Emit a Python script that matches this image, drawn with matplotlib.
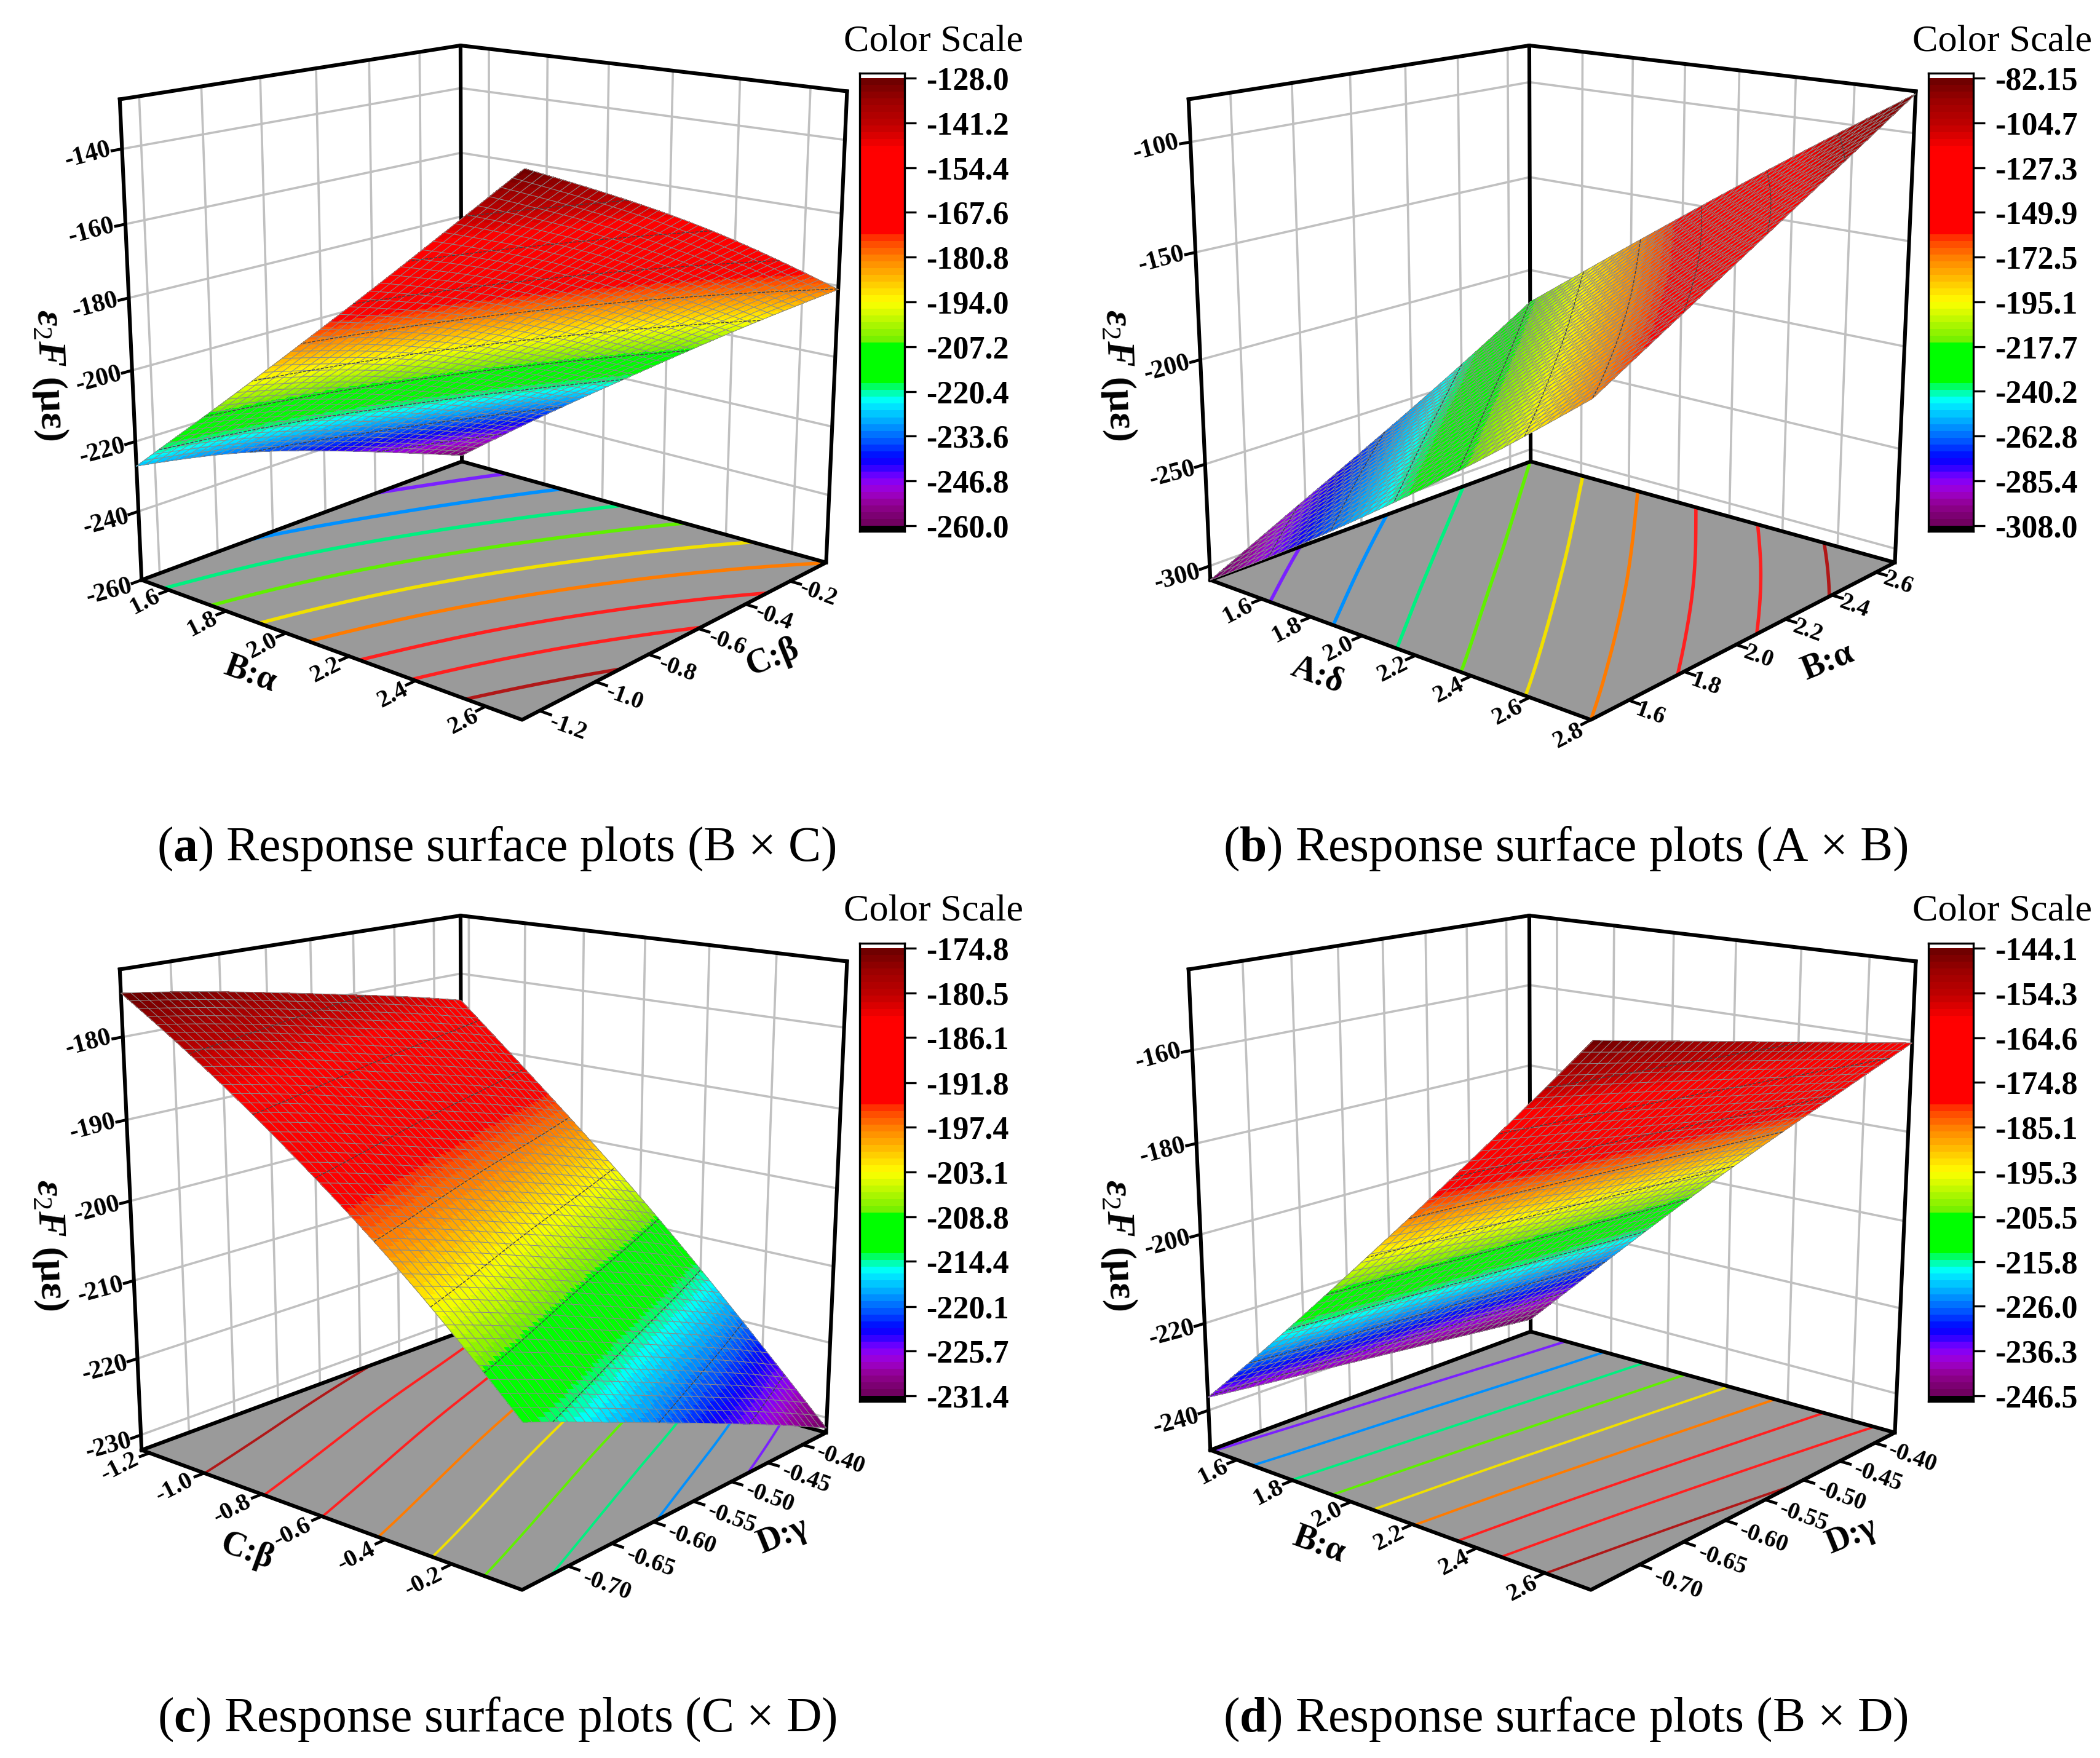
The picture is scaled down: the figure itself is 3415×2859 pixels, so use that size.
from __future__ import annotations

import matplotlib

matplotlib.use("Agg")
import matplotlib.pyplot as plt
import matplotlib.tri as mtri
import numpy as np
from matplotlib.colors import LinearSegmentedColormap, Normalize
from mpl_toolkits.mplot3d import proj3d

W, H = 3415, 2859

plt.rcParams["font.family"] = ["Liberation Serif", "DejaVu Serif"]
plt.rcParams["mathtext.fontset"] = "custom"
plt.rcParams["mathtext.rm"] = "Liberation Serif"
plt.rcParams["mathtext.it"] = "Liberation Serif:italic:bold"
plt.rcParams["mathtext.bf"] = "Liberation Serif:bold"

# values, rows follow y, columns follow x
a_x = [1.5, 1.8, 2.1, 2.4, 2.7]
a_y = [-1.26, -0.9525, -0.645, -0.3375, -0.03]
a_z = [
    [-227, -203, -178.5, -153.5, -128],
    [-232, -209.1, -186.1, -162.8, -139.5],
    [-239.5, -217.4, -195.5, -173.7, -152],
    [-248.5, -227.1, -206.4, -185.9, -166],
    [-258, -237.5, -218, -199, -181],
]
b_x = [1.38, 1.735, 2.09, 2.445, 2.8]
b_y = [1.47, 1.775, 2.08, 2.385, 2.69]
b_z = [
    [-307, -276.5, -244, -209.5, -172.5],
    [-285.5, -253.7, -220.5, -186, -150],
    [-264, -231, -197.1, -162.7, -127.5],
    [-241.5, -207.3, -173, -139, -105],
    [-217.5, -182.5, -148, -114.5, -82.15],
]
c_x = [-1.23, -0.9225, -0.615, -0.3075, 0.0]
c_y = [-0.75, -0.65375, -0.5575, -0.46125, -0.365]
c_z = [
    [-174.8, -182.5, -191.3, -201.3, -213],
    [-176.6, -185.1, -194.6, -205.2, -217.4],
    [-178.8, -188.1, -198.2, -209.4, -221.9],
    [-181.1, -191.1, -201.8, -213.6, -226.5],
    [-183.7, -194.5, -205.8, -218.2, -231.4],
]
d_x = [1.5, 1.8075, 2.115, 2.4225, 2.73]
d_y = [-0.753, -0.657, -0.5615, -0.466, -0.37]
d_z = [
    [-237, -215, -192, -168.5, -144.1],
    [-239.3, -217.2, -194.3, -171.5, -148.2],
    [-241.5, -219.35, -196.9, -174.7, -152.3],
    [-243.8, -221.6, -199.4, -177.9, -156.4],
    [-246, -223.7, -201.8, -180.9, -160.5],
]

a_scale = ["-128.0", "-141.2", "-154.4", "-167.6", "-180.8", "-194.0", "-207.2", "-220.4", "-233.6", "-246.8", "-260.0"]
b_scale = ["-82.15", "-104.7", "-127.3", "-149.9", "-172.5", "-195.1", "-217.7", "-240.2", "-262.8", "-285.4", "-308.0"]
c_scale = ["-174.8", "-180.5", "-186.1", "-191.8", "-197.4", "-203.1", "-208.8", "-214.4", "-220.1", "-225.7", "-231.4"]
d_scale = ["-144.1", "-154.3", "-164.6", "-174.8", "-185.1", "-195.3", "-205.5", "-215.8", "-226.0", "-236.3", "-246.5"]

a_xticks = [1.6, 1.8, 2.0, 2.2, 2.4, 2.6]
a_yticks = [-1.2, -1.0, -0.8, -0.6, -0.4, -0.2]
a_zticks = [-260, -240, -220, -200, -180, -160, -140]
b_xticks = [1.6, 1.8, 2.0, 2.2, 2.4, 2.6, 2.8]
b_yticks = [1.6, 1.8, 2.0, 2.2, 2.4, 2.6]
b_zticks = [-300, -250, -200, -150, -100]
c_xticks = [-1.2, -1.0, -0.8, -0.6, -0.4, -0.2]
c_yticks = [-0.70, -0.65, -0.60, -0.55, -0.50, -0.45, -0.40]
c_zticks = [-230, -220, -210, -200, -190, -180]
d_xticks = [1.6, 1.8, 2.0, 2.2, 2.4, 2.6]
d_yticks = [-0.70, -0.65, -0.60, -0.55, -0.50, -0.45, -0.40]
d_zticks = [-240, -220, -200, -180, -160]

a_zlim = (-260, -127)
b_zlim = (-307, -81)
c_zlim = (-232, -172)
d_zlim = (-249.3, -143)

captions = ["a|Response surface plots (B × C)", "b|Response surface plots (A × B)",
            "c|Response surface plots (C × D)", "d|Response surface plots (B × D)"]
x_titles = ["B:α", "A:δ", "C:β", "B:α"]
y_titles = ["C:β", "B:α", "D:γ", "D:γ"]

band_pos = [0, .04, .07, .10, .125, .145, .19, .225, .26, .275, .29, .308, .31, .41, .411, .5, .55, .6, .64,
            .652, .655, .845, .90, .95, 1]
band_col = ["#700060", "#900090", "#a000d0", "#8000ff", "#3000ff", "#0000ff", "#0060ff", "#00a0ff", "#00e0ff",
            "#00ffff", "#00ffc0", "#00ff60", "#00ff00", "#00ff00", "#70f000", "#ffff00", "#ffc000", "#ff8000",
            "#ff4000", "#ff2000", "#ff0000", "#ff0000", "#c00000", "#a00000", "#700000"]
line_col = ["#7a20ff", "#0090ff", "#00f080", "#60f000", "#f0e000", "#ff7b00", "#ff2020", "#ff2020", "#b01818"]

cmap = LinearSegmentedColormap.from_list("origin_rainbow", list(zip(band_pos, band_col)), N=66)

# camera worked out from the corners of the box in panel (a), all panels share it
AZIM, ELEV, FOCAL = -49.4358, 15.5079, 0.4823
BOX = (1.0169, 1, 0.9956)
SIDE, CX, CY = 1360.9, 774.29, 571.97
DX, DY = 1738, 1415


def refine(xs, ys, zs, n=121):
    # finer mesh only so colours and contours run smoothly between the read values
    zs = np.array(zs, float)
    ny, nx = zs.shape
    U, V = np.meshgrid(np.arange(nx, dtype=float), np.arange(ny, dtype=float))
    tri = mtri.Triangulation(U.ravel(), V.ravel())
    smooth = mtri.CubicTriInterpolator(tri, zs.ravel(), kind="min_E")
    uf = np.linspace(1e-6, nx - 1 - 1e-6, n)
    vf = np.linspace(1e-6, ny - 1 - 1e-6, n)
    UF, VF = np.meshgrid(uf, vf)
    zf = np.asarray(smooth(UF, VF))
    X, Y = np.meshgrid(np.linspace(xs[0], xs[-1], n), np.linspace(ys[0], ys[-1], n))
    return X, Y, zf


def px_rect(x0, y0, w, h):
    return [x0 / W, 1 - (y0 + h) / H, w / W, h / H]


def label3d(ax, x, y, z, s, **kw):
    # Text3D throws the rotation away, so place a plain text at the projected point
    px, py, _ = proj3d.proj_transform(x, y, z, ax.get_proj())
    ax.text2D(px, py, s, transform=ax.transData, fontweight="bold", ha="center", va="center", **kw)


def draw_surface(col, row, xs, ys, zs, xticks, yticks, zticks, zlim, scale, xfmt, yfmt, line_w):
    ox, oy = col * DX, row * DY
    ax = fig.add_axes(px_rect(CX + ox - SIDE / 2, CY + oy - SIDE / 2, SIDE, SIDE), projection="3d",
                      computed_zorder=False)
    ax.set_axis_off()
    ax.view_init(elev=ELEV, azim=AZIM)
    ax.set_proj_type("persp", focal_length=FOCAL)
    ax.set_box_aspect(BOX, zoom=1)

    x0, x1 = xs[0], xs[-1]
    y0, y1 = ys[0], ys[-1]
    z0, z1 = zlim
    xr, yr = x1 - x0, y1 - y0
    grid = dict(color="#c0c0c0", lw=2.6, zorder=1)
    for v in yticks:
        ax.plot([x0, x0], [v, v], [z0, z1], **grid)
    for v in xticks:
        ax.plot([v, v], [y1, y1], [z0, z1], **grid)
    for v in zticks:
        ax.plot([x0, x0], [y0, y1], [v, v], **grid)
        ax.plot([x0, x1], [y1, y1], [v, v], **grid)

    ax.plot_surface(np.array([[x0, x1], [x0, x1]]), np.array([[y0, y0], [y1, y1]]), np.full((2, 2), z0),
                    color="#9a9a9a", shade=False, zorder=2, linewidth=0)

    vmax, vmin = float(scale[0]), float(scale[-1])
    norm = Normalize(vmin, vmax)
    levels = [float(v) for v in scale[1:-1]][::-1]
    X, Y, Z = refine(xs, ys, zs)
    ax.contour(X, Y, Z, levels=levels, zdir="z", offset=z0, colors=line_col, linewidths=line_w, zorder=3)

    frame = dict(color="black", lw=4.4, zorder=4, solid_capstyle="projecting")
    ax.plot([x0, x0, x1], [y0, y1, y1], [z1, z1, z1], **frame)
    ax.plot([x0, x0], [y0, y0], [z0, z1], **frame)
    ax.plot([x0, x0], [y1, y1], [z0, z1], **frame)
    ax.plot([x1, x1], [y1, y1], [z0, z1], **frame)
    ax.plot([x0, x1, x1, x0, x0], [y0, y0, y1, y1, y0], [z0] * 5, **frame)

    stub = dict(color="black", lw=3.4, zorder=4)
    for v in xticks:
        ax.plot([v, v], [y0, y0 - 0.025 * yr], [z0, z0], **stub)
    for v in yticks:
        ax.plot([x1, x1 + 0.025 * xr], [v, v], [z0, z0], **stub)
    for v in zticks:
        ax.plot([x0, x0], [y0, y0 - 0.025 * yr], [v, v], **stub)

    ax.plot_surface(X, Y, Z, rstride=1, cstride=1, facecolors=cmap(norm(Z)), shade=False, linewidth=0,
                    antialiased=False, zorder=5)
    ax.plot_wireframe(X, Y, Z, rstride=3, cstride=3, color="#8a8a8a", linewidth=0.8, zorder=6)
    ax.contour(X, Y, Z, levels=levels, colors="#404040", linewidths=1.0, zorder=7)

    ax.set_xlim(x0, x1)
    ax.set_ylim(y0, y1)
    ax.set_zlim(z0, z1)

    # longer labels sit further out so they clear the tick stubs
    for v in xticks:
        s = xfmt.format(v)
        label3d(ax, v + 0.012 * xr, y0 - (0.075 + 0.015 * (len(s) - 3)) * yr, z0, s, rotation=27, fontsize=29)
    for v in yticks:
        s = yfmt.format(v)
        label3d(ax, x1 + (0.08 + 0.015 * (len(s) - 4) + 0.007 * (len(s) == 5)) * xr, v - 0.02 * yr, z0, s,
                rotation=-20, fontsize=28)
    for v in zticks:
        label3d(ax, x0, y0 - 0.085 * yr, v, f"{v}", rotation=15, fontsize=30)

    # colour bar, tick spacing is 72.8 px
    top, bottom = 127 + oy, 855 + oy
    cax = fig.add_axes(px_rect(1398 + ox, 119 + oy, 73, bottom + 9 - (119 + oy)))
    per_px = (vmax - vmin) / (bottom - top)
    cax.set_ylim(vmin - 9 * per_px, vmax + 8 * per_px)
    cax.set_xlim(0, 1)
    grad = np.linspace(vmin, vmax, 67)
    cax.pcolormesh([0, 1], grad, ((grad[:-1] + grad[1:]) / 2).reshape(-1, 1), cmap=cmap, norm=norm)
    cax.axhspan(vmin - 9 * per_px, vmin, color="black", lw=0)
    cax.set_xticks([])
    cax.yaxis.tick_right()
    cax.set_yticks([float(v) for v in scale], scale, fontsize=37.5, fontweight="bold")
    cax.tick_params(axis="y", length=13.5, width=2.4, pad=12)
    for sp in cax.spines.values():
        sp.set_linewidth(2.4)
    fig.text((1518 + ox) / W, 1 - (83 + oy) / H, "Color Scale", fontsize=44.8, ha="center", va="baseline")

    fig.text((80 + ox) / W, 1 - (610 + oy) / H, r"$ε_{2}F$ (με)", rotation=-88, fontsize=46, fontweight="bold",
             ha="center", va="center")


title_pos = [((407, 1096), (1256, 1069)), ((2142, 1098), (2972, 1076)),
             ((401, 2524), (1273, 2498)), ((2145, 2512), (3011, 2498))]
caption_pos = [(807, 1380), (2546, 1380), (808, 2796), (2546, 2796)]

fig = plt.figure(figsize=(W / 100, H / 100), dpi=100)
draw_surface(0, 0, a_x, a_y, a_z, a_xticks, a_yticks, a_zticks, a_zlim, a_scale, "{:.1f}", "{:.1f}", 4.0)
draw_surface(1, 0, b_x, b_y, b_z, b_xticks, b_yticks, b_zticks, b_zlim, b_scale, "{:.1f}", "{:.1f}", 4.0)
draw_surface(0, 1, c_x, c_y, c_z, c_xticks, c_yticks, c_zticks, c_zlim, c_scale, "{:.1f}", "{:.2f}", 2.8)
draw_surface(1, 1, d_x, d_y, d_z, d_xticks, d_yticks, d_zticks, d_zlim, d_scale, "{:.1f}", "{:.2f}", 2.8)

for i in range(4):
    (tx, ty), (ux, uy) = title_pos[i]
    fig.text(tx / W, 1 - ty / H, x_titles[i], rotation=-20, fontsize=40, fontweight="bold", ha="center", va="center")
    fig.text(ux / W, 1 - uy / H, y_titles[i], rotation=22, fontsize=40, fontweight="bold", ha="center", va="center")
    letter, words = captions[i].split("|")
    cx, cy = caption_pos[i]
    fig.text(cx / W, 1 - cy / H, rf"($\mathbf{{{letter}}}$) {words}", fontsize=57.3, ha="center", va="center")

fig.savefig("out.png", dpi=100)
